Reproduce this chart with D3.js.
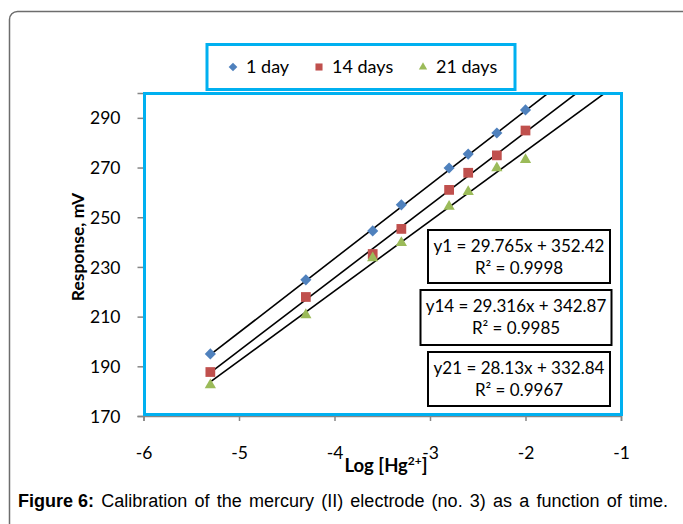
<!DOCTYPE html>
<html>
<head>
<meta charset="utf-8">
<script src="https://cdn.jsdelivr.net/npm/d3@7"></script>
<style>
  body { margin: 0; background: #fff; }
  svg text { font-family: Lato, "Open Sans", sans-serif; }
</style>
</head>
<body>
<svg width="683" height="524"></svg>
<script>
// data
var logConc = [-5.3, -4.3, -3.6, -3.3, -2.8, -2.6, -2.3, -2.0];
var day1 = [195, 224.8, 244.5, 255, 269.8, 275.4, 283.9, 293.2];
var day14 = [187.7, 217.9, 235.2, 245.3, 261, 267.9, 274.9, 284.9];
var day21 = [182.5, 210.7, 233.6, 239.7, 254.3, 260.3, 269.8, 273.1];
var seriesNames = ["1 day", "14 days", "21 days"];
var slopes = [29.765, 29.316, 28.13];
var intercepts = [352.42, 342.87, 332.84];
var eqLines = [["y1 = 29.765x + 352.42", "R² = 0.9998"],
               ["y14 = 29.316x + 342.87", "R² = 0.9985"],
               ["y21 = 28.13x + 332.84", "R² = 0.9967"]];
var xTicks = [-6, -5, -4, -3, -2, -1];
var yTicks = [170, 190, 210, 230, 250, 270, 290];

var colors = ["#4f81bd", "#c0504d", "#9bbb59"];
var symbols = [d3.symbolSquare, d3.symbolSquare, d3.symbolTriangle];
var rotations = [45, 0, 0];
var allSeries = [day1, day14, day21];

var svg = d3.select("svg");

// outer frame
svg.append("rect")
    .attr("x", 9.5).attr("y", 11.5)
    .attr("width", 700).attr("height", 540)
    .attr("rx", 8)
    .attr("fill", "none").attr("stroke", "#6d6d6d").attr("stroke-width", 1.5);

var x = d3.scaleLinear().domain([-6, -1]).range([143.5, 621]);
var y = d3.scaleLinear().domain([170, 300]).range([416, 93]);

// axes (grey)
var xAxis = svg.append("g")
    .attr("transform", "translate(0,416)")
    .call(d3.axisBottom(x).tickValues(xTicks).tickSize(5).tickFormat(function (d) { return String(d); }));
var yAxis = svg.append("g")
    .attr("transform", "translate(143.5,0)")
    .call(d3.axisLeft(y).tickValues(yTicks).tickSize(6).tickFormat(function (d) { return String(d); }));

[xAxis, yAxis].forEach(function (a) {
    a.select(".domain").attr("stroke", "#868686").attr("stroke-width", 1.5);
    a.selectAll(".tick line").attr("stroke", "#868686").attr("stroke-width", 1.5);
    a.selectAll(".tick text").attr("fill", "#000").style("font-size", "17.5px");
});
xAxis.selectAll(".tick text").attr("y", 31);
yAxis.selectAll(".tick text").attr("x", -23).attr("dy", "0.35em");

// plot area border
svg.append("rect")
    .attr("x", 144.5).attr("y", 93.5)
    .attr("width", 477).attr("height", 321)
    .attr("fill", "none").attr("stroke", "#00b0f0").attr("stroke-width", 3);

svg.append("clipPath").attr("id", "clip")
    .append("rect").attr("x", 146).attr("y", 95).attr("width", 474).attr("height", 318);

var plot = svg.append("g").attr("clip-path", "url(#clip)");

// trend lines
slopes.forEach(function (m, i) {
    plot.append("line")
        .attr("x1", x(logConc[0])).attr("y1", y(m * logConc[0] + intercepts[i]))
        .attr("x2", x(-1)).attr("y2", y(m * -1 + intercepts[i]))
        .attr("stroke", "#000").attr("stroke-width", 1.6);
});

// markers
var markerSizes = [62, 95, 55];
allSeries.forEach(function (vals, i) {
    plot.selectAll(".m" + i)
        .data(vals)
        .enter().append("path")
        .attr("d", d3.symbol().type(symbols[i]).size(markerSizes[i]))
        .attr("transform", function (d, j) {
            return "translate(" + x(logConc[j]) + "," + y(d) + ") rotate(" + rotations[i] + ")";
        })
        .attr("fill", colors[i]);
});

// equation boxes
var eqBoxes = [[428, 230, 182, 53], [420.5, 290, 191, 55], [428, 352, 182, 54]];
eqLines.forEach(function (lines, i) {
    var b = eqBoxes[i];
    svg.append("rect")
        .attr("x", b[0]).attr("y", b[1]).attr("width", b[2]).attr("height", b[3])
        .attr("fill", "#fff").attr("stroke", "#000").attr("stroke-width", 2);
    lines.forEach(function (t, k) {
        svg.append("text")
            .attr("x", b[0] + b[2] / 2)
            .attr("y", b[1] + 22 + k * 22)
            .attr("text-anchor", "middle")
            .style("font-size", "17px")
            .text(t);
    });
});

// legend
svg.append("rect")
    .attr("x", 207).attr("y", 44.5).attr("width", 308).attr("height", 45)
    .attr("fill", "#fff").attr("stroke", "#00b0f0").attr("stroke-width", 3);
var legX = [233, 319, 423];
seriesNames.forEach(function (n, i) {
    svg.append("path")
        .attr("d", d3.symbol().type(symbols[i]).size([38, 50, 30][i]))
        .attr("transform", "translate(" + legX[i] + ",67) rotate(" + rotations[i] + ")")
        .attr("fill", colors[i]);
    svg.append("text")
        .attr("x", legX[i] + 13).attr("y", 73)
        .style("font-size", "18px")
        .text(n);
});

// axis titles
svg.append("text")
    .attr("transform", "translate(84,247) rotate(-90)")
    .attr("text-anchor", "middle")
    .style("font-size", "17.5px").style("font-weight", "bold")
    .text("Response, mV");

var xt = svg.append("text")
    .attr("x", 386).attr("y", 472)
    .attr("text-anchor", "middle")
    .style("font-size", "18.5px").style("font-weight", "bold")
    .attr("stroke", "#fff").attr("stroke-width", 3).style("paint-order", "stroke");
xt.append("tspan").text("Log [Hg");
xt.append("tspan").attr("dy", -7).style("font-size", "12px").text("2+");
xt.append("tspan").attr("dy", 7).text("]");

// caption
var cap = svg.append("text")
    .attr("x", 18).attr("y", 507)
    .style("font-family", "Arial, 'Liberation Sans', sans-serif")
    .style("font-size", "18px");
cap.append("tspan").style("font-weight", "bold").text("Figure 6:");
var capRest = cap.append("tspan")
    .text(" Calibration of the mercury (II) electrode (no. 3) as a function of time.");
var capW = cap.node().getComputedTextLength();
var spaces = capRest.text().split(" ").length - 1;
if (capW < 650) capRest.style("word-spacing", ((650 - capW) / spaces) + "px");
</script>
</body>
</html>
